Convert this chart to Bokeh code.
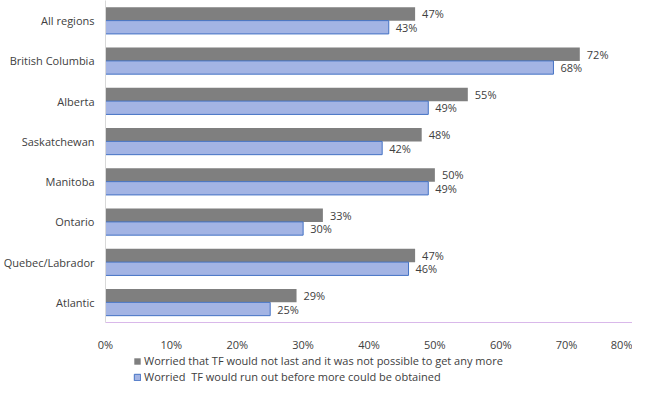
from bokeh.plotting import figure
from bokeh.models import ColumnDataSource, FactorRange, Range1d, Legend, LegendItem, FixedTicker
from bokeh.transform import dodge
from bokeh.layouts import column
from bokeh.core.properties import value
from bokeh.embed import file_html
from bokeh.resources import INLINE

regions = ["All regions", "British Columbia", "Alberta", "Saskatchewan",
           "Manitoba", "Ontario", "Quebec/Labrador", "Atlantic"]
worried_not_last = [47, 72, 55, 48, 50, 33, 47, 29]
worried_run_out = [43, 68, 49, 42, 49, 30, 46, 25]
x_ticks = [0, 10, 20, 30, 40, 50, 60, 70, 80]
series_names = ["Worried that TF would not last and it was not possible to get any more",
                "Worried  TF would run out before more could be obtained"]

FONT = "Open Sans"
GRAY = "#7f7f7f"
BLUE = "#a3b4e4"
BLUE_EDGE = "#4472c4"

src = ColumnDataSource(dict(
    region=regions,
    a=worried_not_last,
    b=worried_run_out,
    a_lbl=[f"{v}%" for v in worried_not_last],
    b_lbl=[f"{v}%" for v in worried_run_out],
))

p = figure(width=632, height=354, output_backend="svg", toolbar_location=None,
           y_range=FactorRange(*list(reversed(regions)), range_padding=0),
           x_range=Range1d(0, 80),
           min_border_left=0, min_border_right=0, min_border_top=0, min_border_bottom=0)
p.outline_line_color = None
p.grid.grid_line_color = None

bh = 0.33
p.hbar(y=dodge("region", bh / 2, range=p.y_range), right="a", left=0, height=bh,
       source=src, fill_color=GRAY, line_color=None)
p.hbar(y=dodge("region", -bh / 2, range=p.y_range), right="b", left=0, height=bh,
       source=src, fill_color=BLUE, line_color=BLUE_EDGE, line_width=1)

p.text(x="a", y=dodge("region", bh / 2, range=p.y_range), text="a_lbl", source=src,
       x_offset=7, text_baseline="middle", text_font=value(FONT), text_font_size="11px",
       text_color="#404040")
p.text(x="b", y=dodge("region", -bh / 2, range=p.y_range), text="b_lbl", source=src,
       x_offset=7, text_baseline="middle", text_font=value(FONT), text_font_size="11px",
       text_color="#404040")

p.xaxis.ticker = FixedTicker(ticks=x_ticks)
p.xaxis.major_label_overrides = {t: f"{t}%" for t in x_ticks}
p.xaxis.axis_line_color = "#d9b8ea"
p.xaxis.major_tick_line_color = None
p.xaxis.minor_tick_line_color = None
p.xaxis.major_label_standoff = 8
p.xaxis.major_label_text_font = FONT
p.xaxis.major_label_text_font_size = "11px"
p.xaxis.major_label_text_color = "#404040"

p.yaxis.axis_line_color = "#d9d9d9"
p.yaxis.major_tick_line_color = None
p.yaxis.minor_tick_line_color = None
p.yaxis.major_label_standoff = 5
p.yaxis.major_label_text_font = FONT
p.yaxis.major_label_text_font_size = "11px"
p.yaxis.major_label_text_color = "#404040"

# legend figure
q = figure(width=632, height=30, output_backend="svg", toolbar_location=None,
           x_range=Range1d(0, 1), y_range=Range1d(0, 1),
           min_border_left=0, min_border_right=0, min_border_top=0, min_border_bottom=0)
q.outline_line_color = None
q.grid.grid_line_color = None
q.axis.visible = False
offscreen = ColumnDataSource(dict(x=[-10], y=[-10], r=[-9]))
la = q.hbar(y="y", left="x", right="r", height=0.5, source=offscreen,
            fill_color=GRAY, line_color=None)
lb = q.hbar(y="y", left="x", right="r", height=0.5, source=offscreen,
            fill_color=BLUE, line_color=BLUE_EDGE)

legend = Legend(items=[LegendItem(label=series_names[0], renderers=[la]),
                       LegendItem(label=series_names[1], renderers=[lb])],
                orientation="vertical", location=(28, 0),
                label_text_font=FONT, label_text_font_size="11px", label_text_color="#404040",
                glyph_width=8, glyph_height=8, spacing=1, padding=0, margin=0,
                label_height=14, label_standoff=3, border_line_color=None,
                background_fill_alpha=0)
q.add_layout(legend, "center")

open("out.html", "w").write(file_html(column(p, q, spacing=0), INLINE))
